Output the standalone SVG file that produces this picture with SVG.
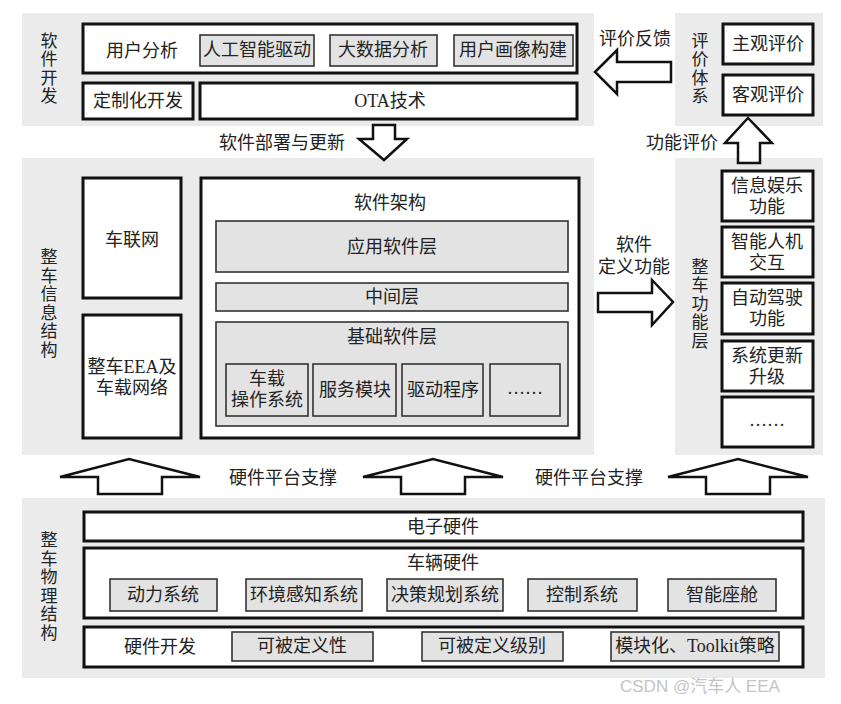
<svg xmlns="http://www.w3.org/2000/svg" width="841" height="704" viewBox="0 0 841 704">
<style>
text{font-family:"Liberation Serif","Noto Sans CJK SC",serif;font-size:18px;fill:#222;text-anchor:middle;dominant-baseline:central}
.v{writing-mode:vertical-rl;font-size:17px;letter-spacing:1.5px}
.panel{fill:#ebebeb;stroke:none}
.box{fill:#fff;stroke:#111;stroke-width:3}
.sub{fill:#e3e3e3;stroke:#333;stroke-width:1.6}
.arr{fill:#fff;stroke:#111;stroke-width:2.5;stroke-linejoin:miter}
.wm{font-family:"Liberation Sans","Noto Sans CJK SC",sans-serif;fill:#c4c4c4;font-size:17px;text-anchor:start}
</style>
<rect width="841" height="704" fill="#fff"/>

<g id="software-dev">
<rect class="panel" x="22" y="13" width="572" height="113"/>
<text class="v" x="47" y="69">软件开发</text>
<rect class="box" x="83" y="24" width="494" height="49"/>
<text x="142" y="51">用户分析</text>
<rect class="sub" x="200" y="35" width="114" height="31"/>
<text x="257" y="50">人工智能驱动</text>
<rect class="sub" x="330" y="35" width="107" height="31"/>
<text x="383" y="50">大数据分析</text>
<rect class="sub" x="454" y="35" width="119" height="31"/>
<text x="513" y="50">用户画像构建</text>
<rect class="box" x="83" y="83" width="110" height="36"/>
<text x="138" y="101">定制化开发</text>
<rect class="box" x="200" y="83" width="377" height="36"/>
<text x="390" y="101">OTA技术</text>
</g>

<g id="evaluation">
<rect class="panel" x="675" y="13" width="148" height="113"/>
<text class="v" x="698" y="69">评价体系</text>
<rect class="box" x="723" y="24" width="90" height="40"/>
<text x="768" y="44">主观评价</text>
<rect class="box" x="723" y="75" width="90" height="40"/>
<text x="768" y="95">客观评价</text>
</g>

<g id="info-structure">
<rect class="panel" x="22" y="158" width="572" height="297"/>
<text class="v" x="47" y="304">整车信息结构</text>
<rect class="box" x="83" y="178" width="98" height="120"/>
<text x="132" y="240">车联网</text>
<rect class="box" x="83" y="315" width="98" height="123"/>
<text x="132" y="367">整车EEA及</text>
<text x="132" y="388">车载网络</text>
</g>

<g id="software-arch">
<rect class="box" x="201" y="178" width="378" height="260"/>
<text x="390" y="203">软件架构</text>
<rect class="sub" x="216" y="221" width="352" height="51"/>
<text x="392" y="247">应用软件层</text>
<rect class="sub" x="216" y="283" width="352" height="28"/>
<text x="392" y="297">中间层</text>
<rect class="sub" x="216" y="322" width="352" height="104"/>
<text x="392" y="337">基础软件层</text>
<rect class="sub" x="226" y="364" width="82" height="52"/>
<text x="267" y="379">车载</text>
<text x="267" y="400">操作系统</text>
<rect class="sub" x="313" y="364" width="83" height="52"/>
<text x="355" y="390">服务模块</text>
<rect class="sub" x="402" y="364" width="81" height="52"/>
<text x="443" y="390">驱动程序</text>
<rect class="sub" x="490" y="364" width="70" height="52"/>
<text x="525" y="388">……</text>
</g>

<g id="function-layer">
<rect class="panel" x="675" y="158" width="148" height="297"/>
<text class="v" x="698" y="304">整车功能层</text>
<rect class="box" x="722" y="171" width="91" height="50"/>
<text x="767" y="185.5">信息娱乐</text>
<text x="767" y="206.5">功能</text>
<rect class="box" x="722" y="227" width="91" height="50"/>
<text x="767" y="241.5">智能人机</text>
<text x="767" y="262.5">交互</text>
<rect class="box" x="722" y="283" width="91" height="51"/>
<text x="767" y="297.5">自动驾驶</text>
<text x="767" y="318.5">功能</text>
<rect class="box" x="722" y="341" width="91" height="50"/>
<text x="767" y="355.5">系统更新</text>
<text x="767" y="376.5">升级</text>
<rect class="box" x="722" y="397" width="91" height="50"/>
<text x="767" y="420">……</text>
</g>

<g id="physical-structure">
<rect class="panel" x="22" y="498" width="803" height="180"/>
<text class="v" x="47" y="587">整车物理结构</text>
<rect class="box" x="84" y="512" width="719" height="29"/>
<text x="443" y="527">电子硬件</text>
<rect class="box" x="84" y="548" width="719" height="70"/>
<text x="443" y="563">车辆硬件</text>
<rect class="sub" x="110" y="579" width="107" height="32"/>
<text x="163" y="595">动力系统</text>
<rect class="sub" x="246" y="579" width="116" height="32"/>
<text x="304" y="595">环境感知系统</text>
<rect class="sub" x="387" y="579" width="116" height="32"/>
<text x="445" y="595">决策规划系统</text>
<rect class="sub" x="528" y="579" width="109" height="32"/>
<text x="582" y="595">控制系统</text>
<rect class="sub" x="668" y="579" width="108" height="32"/>
<text x="722" y="595">智能座舱</text>
<rect class="box" x="84" y="627" width="719" height="40"/>
<text x="160" y="647">硬件开发</text>
<rect class="sub" x="232" y="632" width="141" height="29"/>
<text x="302" y="646">可被定义性</text>
<rect class="sub" x="422" y="632" width="141" height="29"/>
<text x="492" y="646">可被定义级别</text>
<rect class="sub" x="611" y="632" width="168" height="29"/>
<text x="695" y="646">模块化、Toolkit策略</text>
</g>

<g id="connectors">
<polygon class="arr" points="373,125 395,125 395,139 407,139 384,160 359,139 373,139"/>
<text x="282" y="143">软件部署与更新</text>
<polygon class="arr" points="595,72 617,50 617,62 671,62 671,82 617,82 617,94"/>
<text x="635" y="39">评价反馈</text>
<polygon class="arr" points="748,118 772,143 760,143 760,163 738,163 738,143 725,143"/>
<text x="682" y="143">功能评价</text>
<polygon class="arr" points="598,293 652,293 652,280 673,302 652,325 652,312 598,312"/>
<text x="634" y="245">软件</text>
<text x="634" y="267">定义功能</text>
<polygon class="arr" points="60,477 129,459 200,477 162,477 162,494 98,494 98,477"/>
<polygon class="arr" points="363,477 433,459 503,477 465,477 465,494 401,494 401,477"/>
<polygon class="arr" points="668,477 738,459 808,477 770,477 770,494 706,494 706,477"/>
<text x="283" y="478">硬件平台支撑</text>
<text x="589" y="478">硬件平台支撑</text>
</g>

<text class="wm" x="620" y="686">CSDN @汽车人 EEA</text>
</svg>
